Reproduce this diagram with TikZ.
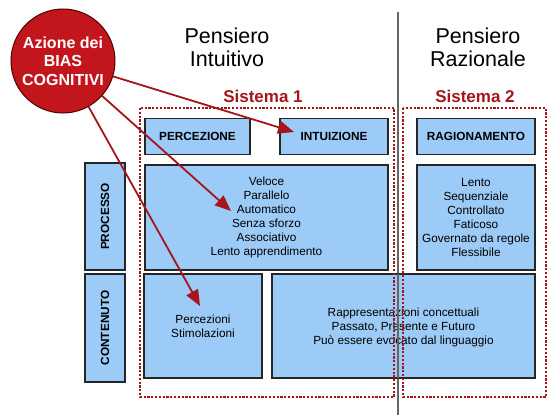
\documentclass[tikz,border=0pt]{standalone}
\usepackage{fontspec}
\setmainfont{Liberation Sans}
\usetikzlibrary{arrows.meta}
\definecolor{boxblue}{HTML}{9DCBF7}
\definecolor{biasred}{HTML}{C3161C}
\definecolor{linered}{HTML}{A4161B}
\tikzset{
  bx/.style={draw=black!85, line width=1.3pt, fill=boxblue, inner sep=0pt},
  zone/.style={draw=linered, line width=2.2pt, dash pattern=on 2.2pt off 1.6pt},
  arr/.style={draw=linered, line width=1.8pt, -{Triangle[length=16pt,width=13pt]}},
  txt/.style={font=\fontsize{11.8}{14}\selectfont, align=center},
  lbl/.style={font=\bfseries\fontsize{11.8}{13}\selectfont},
  title/.style={font=\fontsize{21.5}{23}\selectfont, align=center},
  sys/.style={font=\bfseries\fontsize{17}{19}\selectfont, text=linered}
}
\begin{document}
\begin{tikzpicture}[x=1pt,y=-1pt]
\useasboundingbox (0,0) rectangle (558,415);
% divider
\draw[draw=gray!80!black, line width=1.3pt] (398,12) coordinate (dtop) -- (398,415) coordinate (dbot);
% titles
\node[title] (t1) at (227,47) {Pensiero\\Intuitivo};
\node[title] (t2) at (478,47) {Pensiero\\Razionale};
\node[sys] (s1) at (263,96) {Sistema 1};
\node[sys] (s2) at (475,96) {Sistema 2};
% side labels
\node[bx, minimum width=40pt, minimum height=107pt] (proc) at (105,216.5) {};
\node[lbl, rotate=90] at (proc.center) {PROCESSO};
\node[bx, minimum width=40pt, minimum height=108pt] (cont) at (105,328) {};
\node[lbl, rotate=90] at (cont.center) {CONTENUTO};
% top row
\node[bx, minimum width=105pt, minimum height=36pt, lbl] (perc) at (197.5,136.5) {PERCEZIONE};
\node[bx, minimum width=108pt, minimum height=36pt, lbl] (intu) at (334,136.5) {INTUIZIONE};
\node[bx, minimum width=118pt, minimum height=36pt, lbl] (ragi) at (476,136.5) {RAGIONAMENTO};
% process row
\node[bx, minimum width=243pt, minimum height=105pt] (p1) at (266.5,217.5) {};
\node[txt] (p1t) at (266.5,217) {Veloce\\Parallelo\\Automatico\\Senza sforzo\\Associativo\\Lento apprendimento};
\node[bx, minimum width=118pt, minimum height=105pt] (p2) at (476,217.5) {};
\node[txt] (p2t) at (476,217) {Lento\\Sequenziale\\Controllato\\Faticoso\\Governato da regole\\Flessibile};
% content row
\node[bx, minimum width=118pt, minimum height=104pt] (c1) at (203,326) {};
\node[txt] (c1t) at (203,326) {Percezioni\\Stimolazioni};
\node[bx, minimum width=263pt, minimum height=104pt] (c2) at (403.5,326) {};
\node[txt] (c2t) at (403.5,327) {Rappresentazioni concettuali\\Passato, Presente e Futuro\\Può essere evocato dal linguaggio};
% divider overlay on content box
\draw[draw=gray!80!black, line width=1.3pt] (398,274) -- (398,378);
% dotted zones
\draw[zone] (140,108) rectangle (394,397);
\draw[zone] (403,108) rectangle (546,397);
% bias circle
\node[circle, draw=black!70!red, line width=1pt, fill=biasred, minimum size=104pt, inner sep=0pt,
      text=white, font=\bfseries\fontsize{16}{18.5}\selectfont, align=center] (bias) at (63,61)
      {Azione dei\\BIAS\\COGNITIVI};
% arrows
\coordinate (a1) at (294,132);
\coordinate (a2) at (231,211);
\coordinate (a3) at (200,306);
\draw[arr] (bias) -- (a1);
\draw[arr] (bias) -- (a2);
\draw[arr] (bias) -- (a3);
\end{tikzpicture}
\end{document}
